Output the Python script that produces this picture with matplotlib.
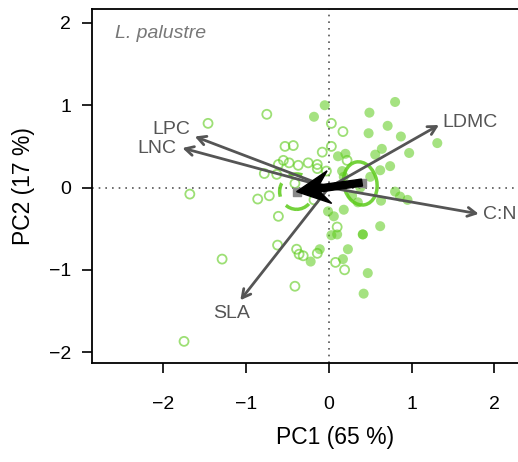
import matplotlib
matplotlib.use("Agg")
import matplotlib.pyplot as plt
from matplotlib.patches import Ellipse, FancyArrow

plt.rcParams['font.family'] = ['Liberation Sans', 'DejaVu Sans']

# PCA scores, first group (open circles)
open_pc1 = [-1.46, -0.75, 0.03, 0.17, -0.53, -0.43, 0.03, -0.08, -0.55, -0.48,
            -0.61, -0.37, -0.25, -0.14, -0.14, -0.03, -0.78, -0.63, 0.22, -1.68,
            -0.86, -0.72, -0.61, -0.62, -1.29, -0.39, -0.36, -0.31, -0.14, 0.10,
            0.08, 0.19, -0.41, -1.75, -0.41, -0.18]
open_pc2 = [0.78, 0.89, 0.78, 0.68, 0.50, 0.51, 0.50, 0.43, 0.33, 0.30,
            0.28, 0.27, 0.30, 0.28, 0.23, 0.20, 0.17, 0.16, 0.33, -0.08,
            -0.14, -0.10, -0.35, -0.70, -0.87, -0.75, -0.81, -0.83, -0.80, -0.48,
            -0.91, -1.00, -1.20, -1.87, 0.05, -0.15]

# PCA scores, second group (filled circles)
fill_pc1 = [-0.05, -0.18, 0.80, 0.49, 0.71, 0.48, 0.87, 1.31, 0.64, 0.56,
            0.97, 0.11, 0.20, 0.74, 0.62, 0.16, 0.50, 0.18, 0.80, 0.86,
            0.95, 0.63, 0.35, 0.18, -0.01, 0.06, 0.62, 0.41, 0.41, 0.03,
            0.10, 0.23, -0.11, -0.22, 0.17, 0.47, 0.42, 0.38, 0.28]
fill_pc2 = [1.00, 0.86, 1.04, 0.91, 0.75, 0.66, 0.62, 0.54, 0.47, 0.40,
            0.42, 0.38, 0.41, 0.26, 0.21, 0.20, 0.13, 0.13, -0.05, -0.11,
            -0.15, -0.16, -0.18, -0.27, -0.29, -0.35, -0.47, -0.57, -0.57, -0.58,
            -0.57, -0.75, -0.75, -0.90, -0.87, -1.04, -1.29, 0.00, -0.10]

# group centroids
cent_open = (-0.39, -0.05)
cent_fill = (0.40, 0.06)

# trait loadings
traits = ["LPC", "LNC", "LDMC", "C:N", "SLA"]
load_pc1 = [-1.62, -1.77, 1.33, 1.81, -1.07]
load_pc2 = [0.62, 0.48, 0.76, -0.32, -1.37]
label_pc1 = [-1.90, -2.08, 1.71, 2.07, -1.17]
label_pc2 = [0.71, 0.48, 0.79, -0.33, -1.53]

green = "#5ccb1a"
grey = "#555555"

fig = plt.figure(figsize=(5.18, 4.62), dpi=100)
ax = fig.add_axes([92 / 518, (462 - 363) / 462, 486 / 518, 354 / 462])

ax.axhline(0, color=grey, lw=1.2, ls=(0, (1, 3)), zorder=1)
ax.axvline(0, color=grey, lw=1.2, ls=(0, (1, 3)), zorder=1)

ax.scatter(open_pc1, open_pc2, s=42, facecolors="none",
           edgecolors=green, linewidths=1.3, alpha=0.6, zorder=2)
ax.scatter(fill_pc1, fill_pc2, s=52, color=green, edgecolors="none",
           alpha=0.55, zorder=2)

# dispersion ellipses around the centroids
ax.add_patch(Ellipse(cent_open, 0.41, 0.43, angle=0, fill=False,
                     edgecolor=green, lw=2.5, ls=(0, (4, 3)), alpha=0.85, zorder=3))
ax.add_patch(Ellipse((0.38, 0.05), 0.40, 0.53, angle=12, fill=False,
                     edgecolor=green, lw=2.5, alpha=0.85, zorder=3))

for name, x, y, lx, ly in zip(traits, load_pc1, load_pc2, label_pc1, label_pc2):
    ax.annotate("", xy=(x, y), xytext=(0, 0),
                arrowprops=dict(arrowstyle="->,head_length=0.6,head_width=0.32",
                                color=grey, lw=2, shrinkA=0, shrinkB=0), zorder=4)
    ax.text(lx, ly, name, color=grey, fontsize=14, ha="center", va="center", zorder=4)

# shift between centroids
ax.scatter([cent_open[0], cent_fill[0]], [cent_open[1], cent_fill[1]],
           marker="s", s=30, color="#888888", zorder=5)
dx = cent_open[0] - cent_fill[0]
dy = cent_open[1] - cent_fill[1]
ax.add_patch(FancyArrow(cent_fill[0], cent_fill[1], dx, dy, width=0.085,
                        head_width=0.40, head_length=0.40, overhang=0.3,
                        length_includes_head=True, color="black", zorder=6))

ax.text(0.048, 0.93, "L. palustre", transform=ax.transAxes, style="italic",
        color="#777777", fontsize=14, ha="left", va="center")

ax.set_xlim(-2.862, 3.01)
ax.set_ylim(-2.133, 2.170)
ax.set_xticks([-2, -1, 0, 1, 2])
ax.set_yticks([-2, -1, 0, 1, 2])
ax.set_xticklabels(["\u22122", "\u22121", "0", "1", "2"])
ax.set_yticklabels(["\u22122", "\u22121", "0", "1", "2"])
ax.tick_params(direction="out", length=7, width=1.2, labelsize=14)
ax.tick_params(axis="x", pad=17)
ax.tick_params(axis="y", pad=8)
for sp in ax.spines.values():
    sp.set_linewidth(1.3)

ax.set_xlabel("PC1 (65 %)", fontsize=16.5, labelpad=9)
ax.set_ylabel("PC2 (17 %)", fontsize=16.5, labelpad=10)

fig.savefig("out.png", dpi=100)
